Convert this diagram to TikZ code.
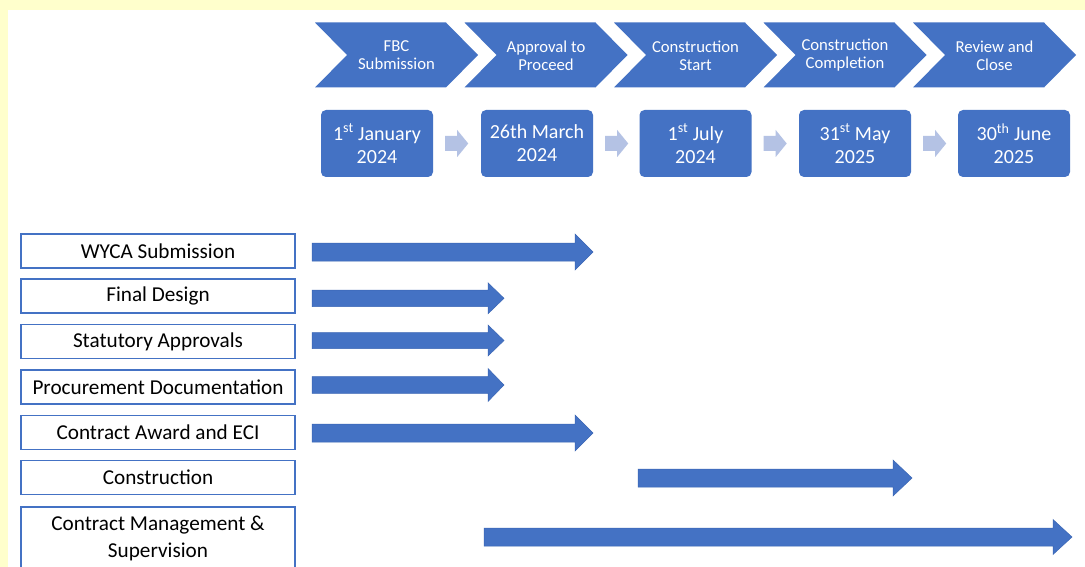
\documentclass[tikz,border=0pt]{standalone}
\usepackage{fontspec}
\setmainfont{Carlito}
\usetikzlibrary{calc}
\definecolor{bgyellow}{HTML}{FFFFCC}
\definecolor{mainblue}{HTML}{4472C4}
\definecolor{edgeblue}{HTML}{3A66B5}
\definecolor{paleblue}{HTML}{B4C2E4}
\newcommand{\chevron}[3]{%
  \fill[mainblue] (#2,22.5) -- ++(131,0) -- ++(32,32.5) -- ++(-32,32.5) -- ++(-131,0) -- ++(32,-32.5) -- cycle;
  \node[chevtext] (#1) at (#2+81.5,55.5) {#3};}
\newcommand{\palearrow}[1]{%
  \fill[paleblue] ($(#1.east)+(12,-7.5)$) -- ++(12,0) -- ++(0,-6) -- ++(11,13.5) -- ++(-11,13.5) -- ++(0,-6) -- ++(-12,0) -- cycle;}
\newcommand{\ganttarrow}[6]{%
  \filldraw[ganttbar] (#1,{#3-#4}) -- ({#2-#6},{#3-#4}) -- ({#2-#6},{#3-#5}) -- (#2,#3) -- ({#2-#6},{#3+#5}) -- ({#2-#6},{#3+#4}) -- (#1,{#3+#4}) -- cycle;}
\begin{document}
\begin{tikzpicture}[x=1pt,y=-1pt,
  chevtext/.style={text=white,align=center,font=\fontsize{16.7}{18}\selectfont,inner sep=0},
  datebox/.style={fill=mainblue,rounded corners=5,minimum width=112,minimum height=67,inner sep=0,
    text=white,align=center,font=\fontsize{20}{23}\selectfont},
  taskbox/.style={draw=mainblue,line width=1.5,fill=white,minimum width=274,minimum height=34,inner sep=0,
    text=black,align=center,font=\fontsize{21.2}{26.5}\selectfont},
  ganttbar/.style={fill=mainblue,draw=edgeblue,line width=0.5}]
\useasboundingbox (0,0) rectangle (1085,567);
\fill[bgyellow] (0,0) rectangle (1085,567);
\fill[white] (8,10) rectangle (1085,567);
% chevrons
\chevron{c1}{315}{FBC\\Submission}
\chevron{c2}{464.5}{Approval to\\Proceed}
\chevron{c3}{614}{Construction\\Start}
\chevron{c4}{763.5}{Construction\\Completion}
\chevron{c5}{913}{Review and\\Close}
% date boxes
\node[datebox] (d1) at (377,143.5) {1\textsuperscript{st} January\\2024};
\node[datebox] (d2) at (537,143.5) {26th March\\2024};
\node[datebox] (d3) at (695.5,143.5) {1\textsuperscript{st} July\\2024};
\node[datebox] (d4) at (855,143.5) {31\textsuperscript{st} May\\2025};
\node[datebox] (d5) at (1014,143.5) {30\textsuperscript{th} June\\2025};
\palearrow{d1}
\palearrow{d2}
\palearrow{d3}
\palearrow{d4}
% task boxes
\node[taskbox] (t1) at (158,251) {WYCA Submission};
\node[taskbox] (t2) at (158,296) {Final Design};
\node[taskbox] (t3) at (158,341.5) {Statutory Approvals};
\node[taskbox] (t4) at (158,387) {Procurement Documentation};
\node[taskbox] (t5) at (158,432.5) {Contract Award and ECI};
\node[taskbox] (t6) at (158,477.5) {Construction};
\node[taskbox,minimum height=63] (t7) at (158,538.5) {Contract Management \&\\Supervision};
% gantt bars
\ganttarrow{312}{593}{252}{9}{18}{18}
\ganttarrow{312}{504}{298.3}{8.3}{15.5}{16}
\ganttarrow{312}{504}{340.5}{8}{15.5}{16}
\ganttarrow{312}{504}{385}{8.3}{16.5}{16}
\ganttarrow{312}{593}{433}{9}{18}{18}
\ganttarrow{638}{912}{478}{9}{18}{19}
\ganttarrow{484}{1072}{537}{9}{17.5}{19}
\end{tikzpicture}
\end{document}
